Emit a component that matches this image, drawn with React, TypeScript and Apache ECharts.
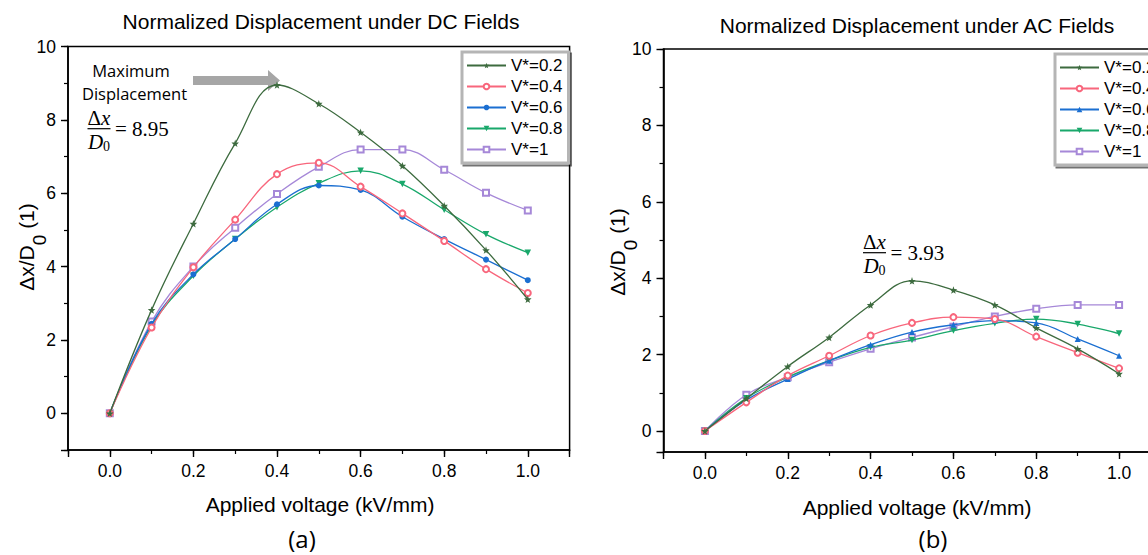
import React, { useEffect, useRef } from 'react';
import * as echarts from 'echarts';

const voltages = [0, 0.1, 0.2, 0.3, 0.4, 0.5, 0.6, 0.7, 0.8, 0.9, 1.0];
const seriesNames = ['V*=0.2', 'V*=0.4', 'V*=0.6', 'V*=0.8', 'V*=1'];

// DC fields (a)
const dc02 = [0, 2.82, 5.17, 7.36, 8.95, 8.44, 7.66, 6.75, 5.66, 4.45, 3.11];
const dc04 = [0, 2.34, 3.98, 5.28, 6.52, 6.83, 6.18, 5.45, 4.70, 3.93, 3.28];
const dc06 = [0, 2.44, 3.79, 4.75, 5.70, 6.21, 6.09, 5.36, 4.75, 4.19, 3.63];
const dc08 = [0, 2.39, 3.75, 4.75, 5.62, 6.27, 6.61, 6.25, 5.55, 4.88, 4.38];
const dc10 = [0, 2.50, 4.00, 5.06, 5.98, 6.72, 7.19, 7.19, 6.64, 6.01, 5.53];

// AC fields (b)
const ac02 = [0, 0.85, 1.69, 2.45, 3.30, 3.93, 3.69, 3.30, 2.70, 2.15, 1.50];
const ac04 = [0, 0.75, 1.45, 1.97, 2.50, 2.83, 2.98, 2.93, 2.47, 2.05, 1.64];
const ac06 = [0, 0.81, 1.36, 1.84, 2.26, 2.59, 2.78, 2.89, 2.83, 2.41, 1.97];
const ac08 = [0, 0.86, 1.41, 1.84, 2.19, 2.38, 2.63, 2.82, 2.93, 2.80, 2.55];
const ac10 = [0, 0.95, 1.41, 1.80, 2.15, 2.45, 2.73, 3.00, 3.20, 3.30, 3.30];

const titleDC = 'Normalized Displacement under DC Fields';
const titleAC = 'Normalized Displacement under AC Fields';
const xName = 'Applied voltage (kV/mm)';

const FONT = 'Arial, "Liberation Sans", Helvetica, sans-serif';
const SERIF = '"Liberation Serif", "Times New Roman", serif';
const OPEN = '"Open Sans", "Noto Sans", sans-serif';
const COLORS = ['#3d6b3f', '#f8667c', '#1b6fd1', '#19a86b', '#a688d8'];
const STAR = 'path://M0,-10L2.35,-3.24L9.51,-3.09L3.8,2.2L5.88,8.09L0,4.5L-5.88,8.09L-3.8,2.2L-9.51,-3.09L-2.35,-3.24Z';
const AC_SUFFIX = ' (AC)';

const dcData = [dc02, dc04, dc06, dc08, dc10];
const acData = [ac02, ac04, ac06, ac08, ac10];
const dcSymbols = [STAR, 'emptyCircle', 'circle', 'triangle', 'emptyRect'];
const acSymbols = [STAR, 'emptyCircle', 'triangle', 'triangle', 'emptyRect'];
const symRot = [0, 0, 0, 180, 0];
const symSize = [7.5, 6, 6, 6.5, 6];

function xLabel(v: number) {
  if (v < -1e-9 || v > 1 + 1e-9) return '';
  return v.toFixed(1);
}
function yLabel(v: number) {
  if (v < -1e-9) return '';
  return String(Math.round(v));
}

function mainX(grid: number) {
  return {
    type: 'value', gridIndex: grid, min: -0.1, max: 1.1, splitNumber: 6, position: 'bottom',
    axisLine: { show: true, onZero: false, lineStyle: { color: '#000', width: 1.6 } },
    axisTick: { show: true, length: 7, lineStyle: { color: '#000', width: 1.4 } },
    axisLabel: { formatter: xLabel, fontSize: 17.5, color: '#000', fontFamily: FONT, margin: 12 },
    splitLine: { show: false },
  };
}
function minorX(grid: number) {
  return {
    type: 'value', gridIndex: grid, min: -0.1, max: 1.1, splitNumber: 12, position: 'bottom',
    axisLine: { show: false, onZero: false },
    axisTick: { show: true, length: 4, lineStyle: { color: '#000', width: 1.2 } },
    axisLabel: { show: false },
    splitLine: { show: false },
  };
}
function mainY(grid: number, min: number) {
  return {
    type: 'value', gridIndex: grid, min, max: 10, splitNumber: 5, position: 'left',
    axisLine: { show: true, onZero: false, lineStyle: { color: '#000', width: 1.6 } },
    axisTick: { show: true, length: 7, lineStyle: { color: '#000', width: 1.4 } },
    axisLabel: { formatter: yLabel, fontSize: 17.5, color: '#000', fontFamily: FONT, margin: 12 },
    splitLine: { show: false },
  };
}
function minorY(grid: number, min: number, split: number) {
  return {
    type: 'value', gridIndex: grid, min, max: 10, splitNumber: split, position: 'left',
    axisLine: { show: false, onZero: false },
    axisTick: { show: true, length: 4, lineStyle: { color: '#000', width: 1.2 } },
    axisLabel: { show: false },
    splitLine: { show: false },
  };
}

function makeSeries(data: number[][], symbols: string[], axisIdx: number, suffix: string) {
  return data.map((vals, i) => ({
    type: 'line',
    name: seriesNames[i] + suffix,
    xAxisIndex: axisIdx,
    yAxisIndex: axisIdx,
    data: voltages.map((x, j) => [x, vals[j]]),
    smooth: 0.4,
    symbol: symbols[i],
    symbolSize: symSize[i],
    symbolRotate: symRot[i],
    showSymbol: true,
    lineStyle: { color: COLORS[i], width: 1.3 },
    itemStyle: { color: COLORS[i], borderColor: COLORS[i], borderWidth: symbols[i].startsWith('empty') ? 1.1 : 0 },
    emphasis: { disabled: true },
    z: 10 - i,
  }));
}

function legendOpt(left: number, top: number, names: string[]) {
  return {
    orient: 'vertical', left, top, selectedMode: false,
    itemWidth: 39, itemHeight: 7, itemGap: 4,
    padding: [5, 6, 5, 4],
    borderColor: '#b5b5b5', borderWidth: 3, backgroundColor: '#fff',
    shadowColor: 'rgba(0,0,0,0.55)', shadowOffsetX: 2, shadowOffsetY: 2, shadowBlur: 0,
    textStyle: { fontSize: 17, color: '#000', fontFamily: FONT },
    formatter: (n: string) => n.replace(AC_SUFFIX, ''),
    data: names,
  };
}

function txt(x: number, y: number, text: string, size: number, family: string) {
  return {
    type: 'text', x, y, silent: true,
    style: {
      text, fontSize: size, fontFamily: family, fill: '#000',
      align: 'center', verticalAlign: 'middle', textAlign: 'center', textVerticalAlign: 'middle',
    },
  };
}

function yName(x: number, y: number) {
  return {
    type: 'text', x, y, rotation: Math.PI / 2, silent: true,
    style: {
      text: '{m|Δx/D}{s|0}{m| (1)}',
      fill: '#000', align: 'center', verticalAlign: 'middle', textAlign: 'center', textVerticalAlign: 'middle',
      rich: {
        m: { fontSize: 21, fontFamily: FONT, verticalAlign: 'top', fill: '#000' },
        s: { fontSize: 19, fontFamily: FONT, verticalAlign: 'top', padding: [14, 0, 0, 0], fill: '#000' },
      },
    },
  };
}

function fraction(cx: number, lineY: number, value: string) {
  return [
    {
      type: 'text', x: cx, y: lineY - 11, silent: true,
      style: {
        text: '{n|Δ}{i|x}', fill: '#000', align: 'center', verticalAlign: 'middle', textAlign: 'center', textVerticalAlign: 'middle',
        rich: {
          n: { fontSize: 21, fontFamily: SERIF, fill: '#000' },
          i: { fontSize: 21, fontFamily: SERIF, fontStyle: 'italic', fill: '#000' },
        },
      },
    },
    {
      type: 'line', silent: true,
      shape: { x1: cx - 11.5, y1: lineY, x2: cx + 11.5, y2: lineY },
      style: { stroke: '#000', lineWidth: 1.2 },
    },
    {
      type: 'text', x: cx, y: lineY + 14, silent: true,
      style: {
        text: '{i|D}{s|0}', fill: '#000', align: 'center', verticalAlign: 'middle', textAlign: 'center', textVerticalAlign: 'middle',
        rich: {
          i: { fontSize: 21, fontFamily: SERIF, fontStyle: 'italic', verticalAlign: 'top', fill: '#000' },
          s: { fontSize: 14, fontFamily: SERIF, verticalAlign: 'top', padding: [8, 0, 0, 0], fill: '#000' },
        },
      },
    },
    {
      type: 'text', x: cx + 16, y: lineY + 0.5, silent: true,
      style: {
        text: value, fontSize: 21, fontFamily: SERIF, fill: '#000',
        align: 'left', verticalAlign: 'middle', textAlign: 'left', textVerticalAlign: 'middle',
      },
    },
  ];
}

function buildOption() {
  return {
    animation: false,
    backgroundColor: '#fff',
    grid: [
      { left: 68, top: 46.5, width: 501.6, height: 403.5, show: true, borderColor: '#000', borderWidth: 1.5, backgroundColor: 'transparent', containLabel: false, outerBoundsMode: 'none' },
      { left: 663.5, top: 49, width: 497, height: 403, show: true, borderColor: '#000', borderWidth: 1.5, backgroundColor: 'transparent', containLabel: false, outerBoundsMode: 'none' },
    ],
    xAxis: [mainX(0), minorX(0), mainX(1), minorX(1)],
    yAxis: [mainY(0, -1), minorY(0, -1, 11), mainY(1, -0.55), minorY(1, -0.55, 10)],
    legend: [
      legendOpt(462, 52, seriesNames),
      legendOpt(1055, 54, seriesNames.map((n) => n + AC_SUFFIX)),
    ],
    series: [
      ...makeSeries(dcData, dcSymbols, 0, ''),
      ...makeSeries(acData, acSymbols, 2, AC_SUFFIX),
    ],
    graphic: [
      txt(321, 21, titleDC, 21, FONT),
      txt(917, 25, titleAC, 21, FONT),
      txt(320, 504, xName, 21, FONT),
      txt(917, 507, xName, 21, FONT),
      yName(32, 247),
      yName(623, 252),
      txt(302, 538, '(a)', 24, OPEN),
      txt(933, 538, '(b)', 24, OPEN),
      txt(131, 70, 'Maximum', 16.5, OPEN),
      txt(134.5, 93, 'Displacement', 16.5, OPEN),
      {
        type: 'polygon', silent: true,
        shape: { points: [[193, 76], [268, 76], [268, 70], [280, 80.5], [268, 91], [268, 85], [193, 85]] },
        style: { fill: '#a6a6a6' },
      },
      ...fraction(99, 128.7, '= 8.95'),
      ...fraction(874.5, 252.7, '= 3.93'),
    ],
  };
}

export default function App() {
  const ref = useRef<HTMLDivElement>(null);
  useEffect(() => {
    if (!ref.current) return;
    const chart = echarts.init(ref.current, null, { renderer: 'svg' });
    chart.setOption(buildOption() as any);
    return () => chart.dispose();
  }, []);
  return (
    <div
      ref={ref}
      style={{ position: 'fixed', left: 0, top: 0, width: 1148, height: 555, background: '#fff' }}
    />
  );
}
